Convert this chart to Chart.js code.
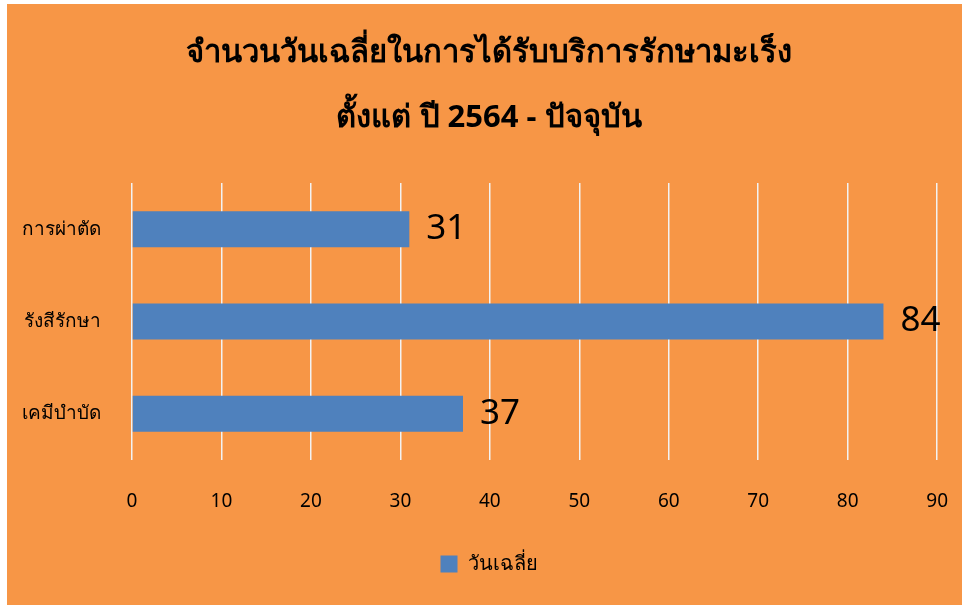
<!DOCTYPE html>
<html>
<head>
<meta charset="utf-8">
<script src="https://cdn.jsdelivr.net/npm/chart.js@4.4.0/dist/chart.umd.min.js"></script>
<style>
  html, body { margin: 0; padding: 0; background: #fff; }
  #wrap { width: 966px; height: 607px; position: relative; }
</style>
</head>
<body>
<div id="wrap"><canvas id="chart"></canvas></div>
<script>
// Données
const categories = ['การผ่าตัด', 'รังสีรักษา', 'เคมีบำบัด'];
const avgDays = [31, 84, 37];
const seriesName = 'วันเฉลี่ย';
const titleLines = ['จำนวนวันเฉลี่ยในการได้รับบริการรักษามะเร็ง', 'ตั้งแต่ ปี 2564 - ปัจจุบัน'];
const xTicks = [0, 10, 20, 30, 40, 50, 60, 70, 80, 90];

const FONT = "'Noto Sans', 'DejaVu Sans', sans-serif";

// Fond orange avec marge blanche
const bgPlugin = {
  id: 'bg',
  beforeDraw(chart) {
    const ctx = chart.ctx;
    ctx.save();
    ctx.fillStyle = '#ffffff';
    ctx.fillRect(0, 0, chart.width, chart.height);
    ctx.fillStyle = '#F79646';
    ctx.fillRect(7, 4, 955, 601);
    ctx.restore();
  }
};

// Étiquettes de valeur à droite des barres
const valueLabels = {
  id: 'valueLabels',
  afterDatasetsDraw(chart) {
    const ctx = chart.ctx;
    const meta = chart.getDatasetMeta(0);
    ctx.save();
    ctx.font = '35px ' + FONT;
    ctx.fillStyle = '#000';
    ctx.textBaseline = 'middle';
    ctx.textAlign = 'left';
    meta.data.forEach((bar, i) => {
      ctx.fillText(String(avgDays[i]), bar.x + 17, bar.y);
    });
    ctx.restore();
  }
};

new Chart(document.getElementById('chart'), {
  type: 'bar',
  data: {
    labels: categories,
    datasets: [{
      label: seriesName,
      data: avgDays,
      backgroundColor: '#4F81BD',
      borderWidth: 0,
      categoryPercentage: 1,
      barPercentage: 0.39
    }]
  },
  options: {
    indexAxis: 'y',
    responsive: true,
    maintainAspectRatio: false,
    animation: false,
    layout: { padding: { left: 17, right: 5, top: 0, bottom: 23 } },
    plugins: {
      title: {
        display: true,
        text: titleLines,
        color: '#000',
        font: { family: FONT, size: 31, weight: 'bold', lineHeight: 2.08 },
        padding: { top: 21, bottom: 33 }
      },
      legend: {
        display: true,
        position: 'bottom',
        labels: {
          color: '#000',
          font: { family: FONT, size: 20 },
          boxWidth: 17,
          boxHeight: 17,
          padding: 24
        }
      },
      tooltip: { enabled: false }
    },
    scales: {
      x: {
        min: 0,
        max: 90,
        afterBuildTicks: s => { s.ticks = xTicks.map(v => ({ value: v })); },
        grid: { color: '#F2F2F2', lineWidth: 1.5, drawTicks: true, tickLength: 12, tickColor: 'rgba(0,0,0,0)' },
        border: { display: false },
        ticks: { color: '#000', font: { family: FONT, size: 19 }, padding: 18 },
        afterFit: s => { s.height = 70; }
      },
      y: {
        grid: { display: false, drawTicks: false },
        border: { display: false },
        ticks: { color: '#000', font: { family: FONT, size: 19 }, padding: 31 },
        afterFit: s => { s.width = 115; }
      }
    }
  },
  plugins: [bgPlugin, valueLabels]
});
</script>
</body>
</html>
